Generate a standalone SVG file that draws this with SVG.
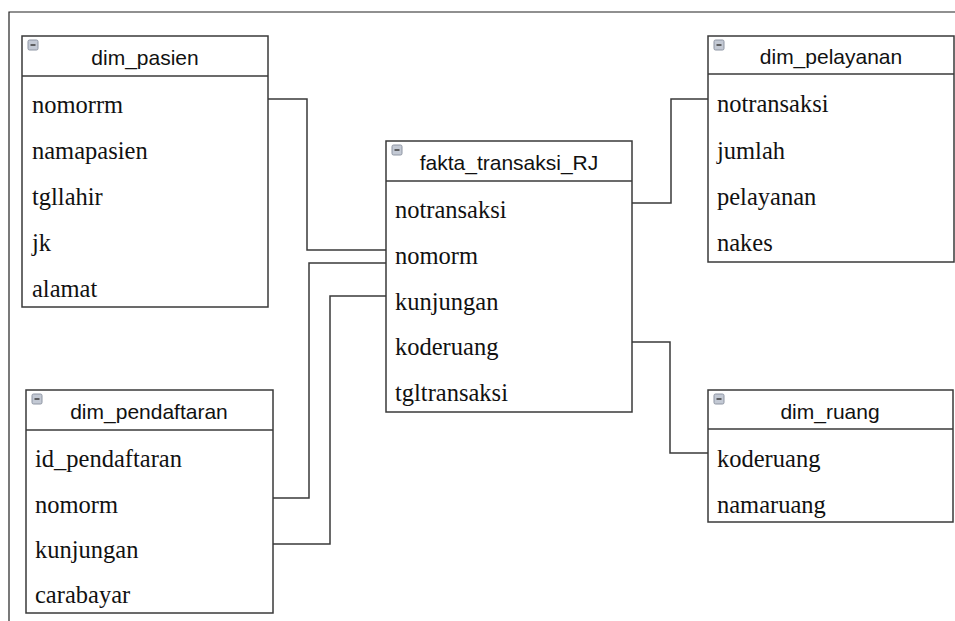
<svg xmlns="http://www.w3.org/2000/svg" width="955" height="621" viewBox="0 0 955 621">
<defs>
<style>
.box{fill:#fff;stroke:#3a3a3a;stroke-width:1.5}
.hdr{fill:none;stroke:#3a3a3a;stroke-width:1.5}
.title{font-family:"Liberation Sans",Arial,sans-serif;font-size:21px;fill:#111;text-anchor:middle}
.row{font-family:"Liberation Serif","Times New Roman",serif;font-size:24.5px;fill:#111}
.conn{fill:none;stroke:#3a3a3a;stroke-width:1.5}
.frame{fill:none;stroke:#222;stroke-width:1.2}
</style>
<g id="icon">
<rect x="0" y="0" width="10" height="10" rx="1.5" fill="#c3c9d4" stroke="#8e95a3" stroke-width="1"/>
<line x1="2.5" y1="5" x2="7.5" y2="5" stroke="#444" stroke-width="1.6"/>
</g>
</defs>
<rect width="955" height="621" fill="#fff"/>
<path class="frame" d="M9,621 V12 H955"/>

<g id="connectors">
<path class="conn" d="M268,99 H307 V250 H386"/>
<path class="conn" d="M273,498 H309 V263 H386"/>
<path class="conn" d="M273,544 H330 V296 H386"/>
<path class="conn" d="M632,203 H671 V99 H708"/>
<path class="conn" d="M632,342 H670 V453 H708"/>
</g>

<g id="dim_pasien">
<rect class="box" x="22" y="36" width="246" height="271"/>
<line class="hdr" x1="22" y1="76" x2="268" y2="76"/>
<use href="#icon" x="28" y="40"/>
<text class="title" x="145" y="65">dim_pasien</text>
<text class="row" x="32" y="113">nomorrm</text>
<text class="row" x="32" y="159">namapasien</text>
<text class="row" x="32" y="205">tgllahir</text>
<text class="row" x="32" y="251">jk</text>
<text class="row" x="32" y="297">alamat</text>
</g>

<g id="fakta_transaksi_RJ">
<rect class="box" x="386" y="141" width="246" height="271"/>
<line class="hdr" x1="386" y1="181" x2="632" y2="181"/>
<use href="#icon" x="392" y="145"/>
<text class="title" x="509" y="170">fakta_transaksi_RJ</text>
<text class="row" x="395" y="218">notransaksi</text>
<text class="row" x="395" y="264">nomorm</text>
<text class="row" x="395" y="310">kunjungan</text>
<text class="row" x="395" y="355">koderuang</text>
<text class="row" x="395" y="401">tgltransaksi</text>
</g>

<g id="dim_pelayanan">
<rect class="box" x="708" y="36" width="246" height="226"/>
<line class="hdr" x1="708" y1="74" x2="954" y2="74"/>
<use href="#icon" x="714" y="40"/>
<text class="title" x="831" y="64">dim_pelayanan</text>
<text class="row" x="717" y="112">notransaksi</text>
<text class="row" x="717" y="159">jumlah</text>
<text class="row" x="717" y="205">pelayanan</text>
<text class="row" x="717" y="251">nakes</text>
</g>

<g id="dim_pendaftaran">
<rect class="box" x="26" y="390" width="247" height="223"/>
<line class="hdr" x1="26" y1="430" x2="273" y2="430"/>
<use href="#icon" x="32" y="394"/>
<text class="title" x="149" y="419">dim_pendaftaran</text>
<text class="row" x="35" y="467">id_pendaftaran</text>
<text class="row" x="35" y="513">nomorm</text>
<text class="row" x="35" y="558">kunjungan</text>
<text class="row" x="35" y="603">carabayar</text>
</g>

<g id="dim_ruang">
<rect class="box" x="708" y="390" width="245" height="132"/>
<line class="hdr" x1="708" y1="429" x2="953" y2="429"/>
<use href="#icon" x="714" y="394"/>
<text class="title" x="830" y="419">dim_ruang</text>
<text class="row" x="717" y="467">koderuang</text>
<text class="row" x="717" y="513">namaruang</text>
</g>
</svg>
